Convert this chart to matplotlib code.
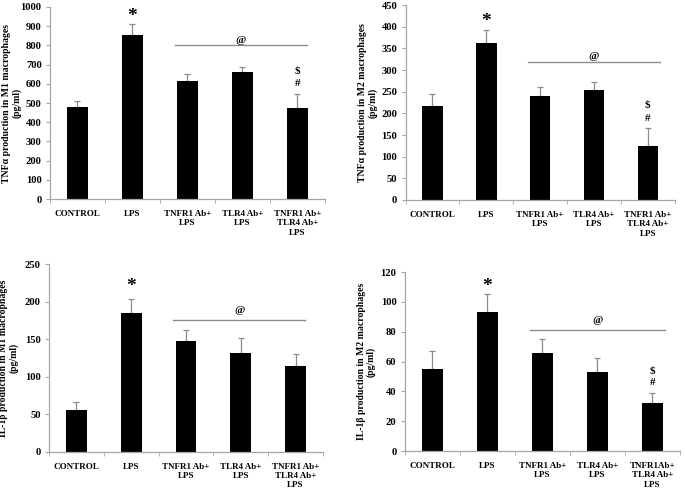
import matplotlib
matplotlib.use("Agg")
import matplotlib.pyplot as plt
import numpy as np

plt.rcParams['font.family'] = ['Liberation Serif', 'DejaVu Serif']
plt.rcParams['font.weight'] = 'bold'

categories = ["CONTROL", "LPS", "TNFR1 Ab+\nLPS", "TLR4 Ab+\nLPS", "TNFR1 Ab+\nTLR4 Ab+\nLPS"]
categories_4 = ["CONTROL", "LPS", "TNFR1 Ab+\nLPS", "TLR4 Ab+\nLPS", "TNFR1Ab+\nTLR4 Ab+\nLPS"]

tnf_m1 = [478, 855, 615, 660, 472]
tnf_m1_err = [32, 55, 37, 30, 73]
tnf_m2 = [218, 362, 239, 253, 125]
tnf_m2_err = [27, 30, 21, 19, 42]
il1_m1 = [55, 185, 148, 132, 114]
il1_m1_err = [11, 18, 14, 19, 16]
il1_m2 = [55, 93, 66, 53, 32.5]
il1_m2_err = [12, 12, 9, 9.5, 6.5]

panels = [
    dict(rect=[0.073, 0.5955, 0.401, 0.3903], vals=tnf_m1, err=tnf_m1_err, cats=categories,
         ylim=1000, step=100, ylabel="TNFα production in M1 macrophages\n(pg/ml)", lx=-0.105,
         star=948, at=(827, 800, 1.77, 4.17), dollar=(665, 601)),
    dict(rect=[0.592, 0.5935, 0.393, 0.3963], vals=tnf_m2, err=tnf_m2_err, cats=categories,
         ylim=450, step=50, ylabel="TNFα production in M2 macrophages\n(pg/ml)", lx=-0.105,
         star=413, at=(332, 319, 1.77, 4.22), dollar=(219, 188)),
    dict(rect=[0.0715, 0.0819, 0.40, 0.3815], vals=il1_m1, err=il1_m1_err, cats=categories,
         ylim=250, step=50, ylabel="IL-1β production in M1 macrophages\n(pg/ml)", lx=-0.11,
         star=220, at=(188, 176, 1.77, 4.17), dollar=None),
    dict(rect=[0.591, 0.0833, 0.4017, 0.3637], vals=il1_m2, err=il1_m2_err, cats=categories_4,
         ylim=120, step=20, ylabel="IL-1β production in M2 macrophages\n(pg/ml)", lx=-0.105,
         star=110, at=(87.5, 81, 1.77, 4.22), dollar=(53.7, 46)),
]

fig = plt.figure(figsize=(6.85, 4.92), dpi=100)
spine_c = '#a6a6a6'
for p in panels:
    ax = fig.add_axes(p['rect'])
    x = np.arange(5)
    ax.bar(x, p['vals'], width=0.38, color='black', zorder=2)
    ax.errorbar(x, p['vals'], yerr=[np.zeros(5), p['err']], fmt='none',
                ecolor='#8c8c8c', elinewidth=0.9, capsize=2, capthick=0.9, zorder=1)
    ax.set_xlim(-0.5, 4.5)
    ax.set_ylim(0, p['ylim'])
    ax.set_yticks(np.arange(0, p['ylim'] + 0.1, p['step']))
    ax.set_xticks(x)
    ax.set_xticklabels(p['cats'], fontsize=6.5, fontweight='bold', linespacing=1.2)
    ax.set_xticks(np.arange(-0.5, 5, 1), minor=True)
    ax.tick_params(axis='x', which='major', length=0, pad=8)
    ax.tick_params(axis='x', which='minor', length=3, color=spine_c)
    ax.tick_params(axis='y', length=3, color=spine_c, labelsize=7.6, pad=3)
    for lab in ax.get_yticklabels():
        lab.set_fontweight('bold')
    for s in ['top', 'right']:
        ax.spines[s].set_visible(False)
    for s in ['left', 'bottom']:
        ax.spines[s].set_color(spine_c)
        ax.spines[s].set_linewidth(0.9)
    ax.set_ylabel(p['ylabel'], fontsize=7.0, fontweight='bold', linespacing=1.1)
    ax.yaxis.set_label_coords(p['lx'], 0.5)
    ax.text(1, p['star'], '*', ha='center', va='center', fontsize=14)
    at_y, line_y, x0, x1 = p['at']
    ax.plot([x0, x1], [line_y, line_y], color='#8c8c8c', lw=1.0)
    ax.text((x0 + x1) / 2, at_y, '@', ha='center', va='center', fontsize=8)
    if p['dollar']:
        ax.text(4, p['dollar'][0], '$', ha='center', va='center', fontsize=8)
        ax.text(4, p['dollar'][1], '#', ha='center', va='center', fontsize=8)

fig.savefig('out.png', dpi=100, facecolor='white')
